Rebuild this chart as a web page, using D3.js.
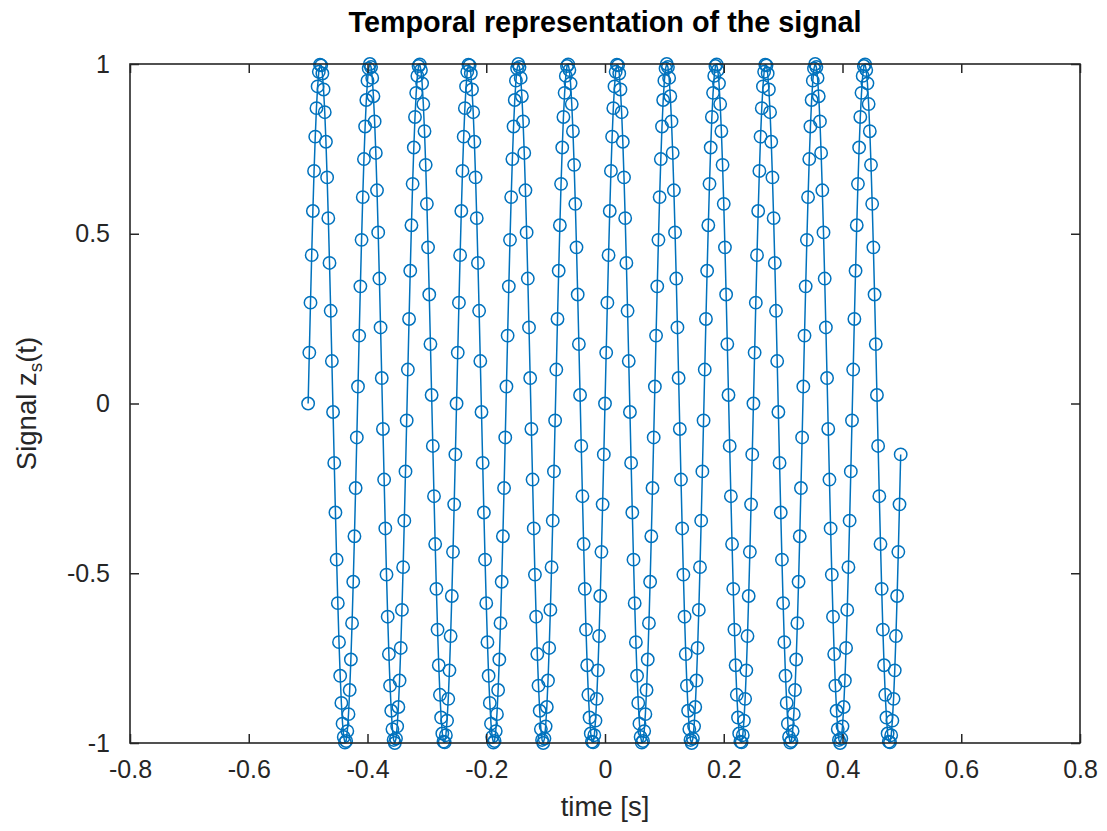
<!DOCTYPE html>
<html>
<head>
<meta charset="utf-8">
<script src="https://cdn.jsdelivr.net/npm/d3@7"></script>
<style>
html,body{margin:0;padding:0;background:#fff;}
svg{display:block;}
text{font-family:"Liberation Sans",Arial,Helvetica,sans-serif;}
</style>
</head>
<body>
<svg id="chart" width="1107" height="831"></svg>
<script>
// ---- data ----
const titleText = "Temporal representation of the signal";
const xLabelText = "time [s]";
const xTicks = [-0.8, -0.6, -0.4, -0.2, 0, 0.2, 0.4, 0.6, 0.8];
const xTickLabels = ["-0.8", "-0.6", "-0.4", "-0.2", "0", "0.2", "0.4", "0.6", "0.8"];
const yTicks = [-1, -0.5, 0, 0.5, 1];
const yTickLabels = ["-1", "-0.5", "0", "0.5", "1"];

// sample times [s]
const time = [
-.5,-.498,-.496,-.494,-.492,-.49,-.488,-.486,-.484,-.482,-.48,-.478,-.476,-.474,-.472,-.47,-.468,-.466,-.464,-.462,-.46,-.458,-.456,-.454,-.452,
-.45,-.448,-.446,-.444,-.442,-.44,-.438,-.436,-.434,-.432,-.43,-.428,-.426,-.424,-.422,-.42,-.418,-.416,-.414,-.412,-.41,-.408,-.406,-.404,-.402,
-.4,-.398,-.396,-.394,-.392,-.39,-.388,-.386,-.384,-.382,-.38,-.378,-.376,-.374,-.372,-.37,-.368,-.366,-.364,-.362,-.36,-.358,-.356,-.354,-.352,
-.35,-.348,-.346,-.344,-.342,-.34,-.338,-.336,-.334,-.332,-.33,-.328,-.326,-.324,-.322,-.32,-.318,-.316,-.314,-.312,-.31,-.308,-.306,-.304,-.302,
-.3,-.298,-.296,-.294,-.292,-.29,-.288,-.286,-.284,-.282,-.28,-.278,-.276,-.274,-.272,-.27,-.268,-.266,-.264,-.262,-.26,-.258,-.256,-.254,-.252,
-.25,-.248,-.246,-.244,-.242,-.24,-.238,-.236,-.234,-.232,-.23,-.228,-.226,-.224,-.222,-.22,-.218,-.216,-.214,-.212,-.21,-.208,-.206,-.204,-.202,
-.2,-.198,-.196,-.194,-.192,-.19,-.188,-.186,-.184,-.182,-.18,-.178,-.176,-.174,-.172,-.17,-.168,-.166,-.164,-.162,-.16,-.158,-.156,-.154,-.152,
-.15,-.148,-.146,-.144,-.142,-.14,-.138,-.136,-.134,-.132,-.13,-.128,-.126,-.124,-.122,-.12,-.118,-.116,-.114,-.112,-.11,-.108,-.106,-.104,-.102,
-.1,-.098,-.096,-.094,-.092,-.09,-.088,-.086,-.084,-.082,-.08,-.078,-.076,-.074,-.072,-.07,-.068,-.066,-.064,-.062,-.06,-.058,-.056,-.054,-.052,
-.05,-.048,-.046,-.044,-.042,-.04,-.038,-.036,-.034,-.032,-.03,-.028,-.026,-.024,-.022,-.02,-.018,-.016,-.014,-.012,-.01,-.008,-.006,-.004,-.002,
0,.002,.004,.006,.008,.01,.012,.014,.016,.018,.02,.022,.024,.026,.028,.03,.032,.034,.036,.038,.04,.042,.044,.046,.048,
.05,.052,.054,.056,.058,.06,.062,.064,.066,.068,.07,.072,.074,.076,.078,.08,.082,.084,.086,.088,.09,.092,.094,.096,.098,
.1,.102,.104,.106,.108,.11,.112,.114,.116,.118,.12,.122,.124,.126,.128,.13,.132,.134,.136,.138,.14,.142,.144,.146,.148,
.15,.152,.154,.156,.158,.16,.162,.164,.166,.168,.17,.172,.174,.176,.178,.18,.182,.184,.186,.188,.19,.192,.194,.196,.198,
.2,.202,.204,.206,.208,.21,.212,.214,.216,.218,.22,.222,.224,.226,.228,.23,.232,.234,.236,.238,.24,.242,.244,.246,.248,
.25,.252,.254,.256,.258,.26,.262,.264,.266,.268,.27,.272,.274,.276,.278,.28,.282,.284,.286,.288,.29,.292,.294,.296,.298,
.3,.302,.304,.306,.308,.31,.312,.314,.316,.318,.32,.322,.324,.326,.328,.33,.332,.334,.336,.338,.34,.342,.344,.346,.348,
.35,.352,.354,.356,.358,.36,.362,.364,.366,.368,.37,.372,.374,.376,.378,.38,.382,.384,.386,.388,.39,.392,.394,.396,.398,
.4,.402,.404,.406,.408,.41,.412,.414,.416,.418,.42,.422,.424,.426,.428,.43,.432,.434,.436,.438,.44,.442,.444,.446,.448,
.45,.452,.454,.456,.458,.46,.462,.464,.466,.468,.47,.472,.474,.476,.478,.48,.482,.484,.486,.488,.49,.492,.494,.496,.498
];

// signal values z_s(t)
const signal = [
0,.15,.297,.437,.567,.685,.786,.87,.934,.977,.998,.996,.972,.925,.858,.771,.666,.546,.414,.273,.125,-.025,-.175,-.321,-.46,-.588,-.703,-.802,-.882,-.943,-.982,-.999,-.994,-.965,-.915,-.844,-.754,-.647,-.525,-.391,-.249,-.1,
.05,.2,.345,.482,.608,.72,.816,.894,.951,.987,1,.991,.959,.905,.831,.738,.628,.504,.368,.224,.075,-.075,-.224,-.368,-.504,-.628,-.738,-.831,-.905,-.959,-.991,-1,-.987,-.951,-.894,-.816,-.72,-.608,-.482,-.345,-.2,-.05,
.1,.249,.391,.525,.647,.754,.844,.915,.965,.994,.999,.982,.943,.882,.802,.703,.588,.46,.321,.175,.025,-.125,-.273,-.414,-.546,-.666,-.771,-.858,-.925,-.972,-.996,-.998,-.977,-.934,-.87,-.786,-.685,-.567,-.437,-.297,-.15,
0,.15,.297,.437,.567,.685,.786,.87,.934,.977,.998,.996,.972,.925,.858,.771,.666,.546,.414,.273,.125,-.025,-.175,-.321,-.46,-.588,-.703,-.802,-.882,-.943,-.982,-.999,-.994,-.965,-.915,-.844,-.754,-.647,-.525,-.391,-.249,-.1,
.05,.2,.345,.482,.608,.72,.816,.894,.951,.987,1,.991,.959,.905,.831,.738,.628,.504,.368,.224,.075,-.075,-.224,-.368,-.504,-.628,-.738,-.831,-.905,-.959,-.991,-1,-.987,-.951,-.894,-.816,-.72,-.608,-.482,-.345,-.2,-.05,
.1,.249,.391,.525,.647,.754,.844,.915,.965,.994,.999,.982,.943,.882,.802,.703,.588,.46,.321,.175,.025,-.125,-.273,-.414,-.546,-.666,-.771,-.858,-.925,-.972,-.996,-.998,-.977,-.934,-.87,-.786,-.685,-.567,-.437,-.297,-.15,
0,.15,.297,.437,.567,.685,.786,.87,.934,.977,.998,.996,.972,.925,.858,.771,.666,.546,.414,.273,.125,-.025,-.175,-.321,-.46,-.588,-.703,-.802,-.882,-.943,-.982,-.999,-.994,-.965,-.915,-.844,-.754,-.647,-.525,-.391,-.249,-.1,
.05,.2,.345,.482,.608,.72,.816,.894,.951,.987,1,.991,.959,.905,.831,.738,.628,.504,.368,.224,.075,-.075,-.224,-.368,-.504,-.628,-.738,-.831,-.905,-.959,-.991,-1,-.987,-.951,-.894,-.816,-.72,-.608,-.482,-.345,-.2,-.05,
.1,.249,.391,.525,.647,.754,.844,.915,.965,.994,.999,.982,.943,.882,.802,.703,.588,.46,.321,.175,.025,-.125,-.273,-.414,-.546,-.666,-.771,-.858,-.925,-.972,-.996,-.998,-.977,-.934,-.87,-.786,-.685,-.567,-.437,-.297,-.15,
0,.15,.297,.437,.567,.685,.786,.87,.934,.977,.998,.996,.972,.925,.858,.771,.666,.546,.414,.273,.125,-.025,-.175,-.321,-.46,-.588,-.703,-.802,-.882,-.943,-.982,-.999,-.994,-.965,-.915,-.844,-.754,-.647,-.525,-.391,-.249,-.1,
.05,.2,.345,.482,.608,.72,.816,.894,.951,.987,1,.991,.959,.905,.831,.738,.628,.504,.368,.224,.075,-.075,-.224,-.368,-.504,-.628,-.738,-.831,-.905,-.959,-.991,-1,-.987,-.951,-.894,-.816,-.72,-.608,-.482,-.345,-.2,-.05,
.1,.249,.391,.525,.647,.754,.844,.915,.965,.994,.999,.982,.943,.882,.802,.703,.588,.46,.321,.175,.025,-.125,-.273,-.414,-.546,-.666,-.771,-.858,-.925,-.972,-.996,-.998,-.977,-.934,-.87,-.786,-.685,-.567,-.437,-.297,-.15
];

// ---- drawing ----
const svg = d3.select("#chart");
const plot = {left: 130, right: 1080, top: 64, bottom: 743};
const ink = "#262626";
const blue = "#0072BD";

const x = d3.scaleLinear().domain([-0.8, 0.8]).range([plot.left, plot.right]);
const y = d3.scaleLinear().domain([-1, 1]).range([plot.bottom, plot.top]);

const points = d3.range(Math.min(time.length, signal.length)).map(i => ({t: time[i], v: signal[i]}));

// data line
svg.append("path")
  .datum(points)
  .attr("fill", "none")
  .attr("stroke", blue)
  .attr("stroke-width", 1.5)
  .attr("stroke-linejoin", "round")
  .attr("d", d3.line().x(d => x(d.t)).y(d => y(d.v)));

// markers
svg.append("g")
  .selectAll("circle")
  .data(points)
  .join("circle")
  .attr("cx", d => x(d.t))
  .attr("cy", d => y(d.v))
  .attr("r", 6.2)
  .attr("fill", "none")
  .attr("stroke", blue)
  .attr("stroke-width", 1.5);

// axes
function styleAxis(g) {
  g.select(".domain").remove();
  g.selectAll(".tick line").attr("stroke", ink).attr("stroke-width", 1.5);
  g.selectAll(".tick text").attr("fill", ink).style("font-size", "25px")
    .style("font-family", "'Liberation Sans', Arial, sans-serif");
}

svg.append("g")
  .attr("transform", `translate(0,${plot.bottom})`)
  .call(d3.axisBottom(x).tickValues(xTicks).tickSize(-9).tickPadding(17)
    .tickFormat((d, i) => xTickLabels[i]))
  .call(styleAxis);

svg.append("g")
  .attr("transform", `translate(0,${plot.top})`)
  .call(d3.axisTop(x).tickValues(xTicks).tickSize(-9).tickFormat(""))
  .call(styleAxis);

svg.append("g")
  .attr("transform", `translate(${plot.left},0)`)
  .call(d3.axisLeft(y).tickValues(yTicks).tickSize(-9).tickPadding(20)
    .tickFormat((d, i) => yTickLabels[i]))
  .call(styleAxis);

svg.append("g")
  .attr("transform", `translate(${plot.right},0)`)
  .call(d3.axisRight(y).tickValues(yTicks).tickSize(-9).tickFormat(""))
  .call(styleAxis);

// frame
svg.append("rect")
  .attr("x", plot.left).attr("y", plot.top)
  .attr("width", plot.right - plot.left).attr("height", plot.bottom - plot.top)
  .attr("fill", "none").attr("stroke", ink).attr("stroke-width", 1.6);

// title
svg.append("text")
  .attr("x", (plot.left + plot.right) / 2).attr("y", 32)
  .attr("text-anchor", "middle")
  .attr("fill", "#000")
  .style("font-size", "28.8px").style("font-weight", "bold")
  .text(titleText);

// x label
svg.append("text")
  .attr("x", (plot.left + plot.right) / 2).attr("y", 816)
  .attr("text-anchor", "middle")
  .attr("fill", ink)
  .style("font-size", "27.5px")
  .text(xLabelText);

// y label with subscript
const yl = svg.append("text")
  .attr("transform", `translate(36,${(plot.top + plot.bottom) / 2}) rotate(-90)`)
  .attr("text-anchor", "middle")
  .attr("fill", ink)
  .style("font-size", "27.5px");
yl.append("tspan").text("Signal z");
yl.append("tspan").attr("dy", 6).style("font-size", "19px").text("s");
yl.append("tspan").attr("dy", -6).text("(t)");
</script>
</body>
</html>
